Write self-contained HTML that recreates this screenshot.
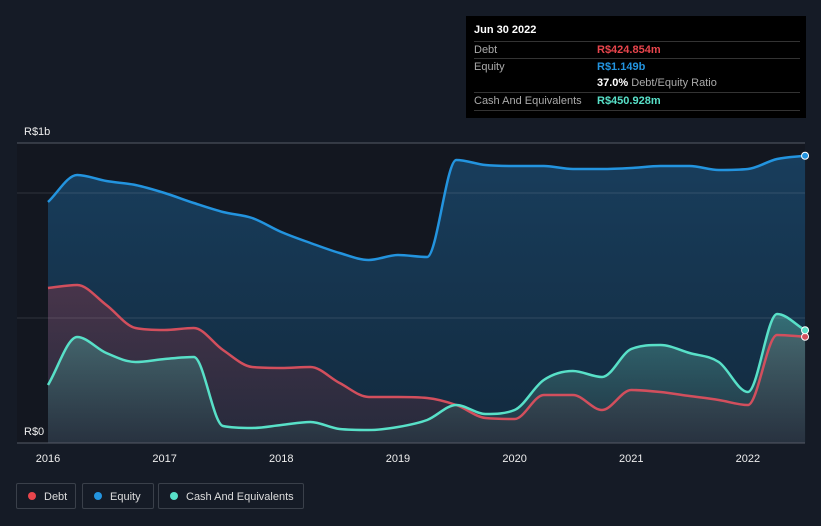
<!DOCTYPE html>
<html><head><meta charset="utf-8"><style>
body{margin:0;background:#151b26;font-family:"Liberation Sans",sans-serif;}
#c{position:absolute;left:0;top:0;width:821px;height:526px;}
.tt{position:absolute;left:466px;top:16px;width:340px;height:102px;background:#000;color:#fff;font-size:11px;}
.row{position:absolute;left:8px;width:326px;border-top:1px solid #333;height:17px;line-height:17px;color:#aaa;}
.v{position:absolute;left:123px;font-weight:bold;}
.leg{position:absolute;top:483px;height:26px;border:1px solid #3a404a;border-radius:2px;color:#ddd;font-size:11px;line-height:26px;box-sizing:border-box;}
.dot{display:inline-block;width:8px;height:8px;border-radius:50%;margin:0 8px 0 11px;}
</style></head><body>
<svg id="c" width="821" height="526">
<defs>
<linearGradient id="ge" x1="0" y1="0" x2="0" y2="1"><stop offset="0" stop-color="#1a4a70" stop-opacity="0.75"/><stop offset="1" stop-color="#123048" stop-opacity="0.75"/></linearGradient>
<linearGradient id="gd" x1="0" y1="0" x2="0" y2="1"><stop offset="0" stop-color="#6a3548" stop-opacity="0.6"/><stop offset="1" stop-color="#3a2a38" stop-opacity="0.5"/></linearGradient>
<linearGradient id="gc" x1="0" y1="0" x2="0" y2="1"><stop offset="0" stop-color="#4fa09a" stop-opacity="0.55"/><stop offset="1" stop-color="#2a3a44" stop-opacity="0.5"/></linearGradient>
</defs>
<g id="bg"></g><g id="areas"></g><g id="grid"></g><g id="lines"></g><g id="ticks"></g>
</svg>
<div class="tt">
<div style="position:absolute;left:8px;top:8px;font-weight:bold;color:#fff">Jun 30 2022</div>
<div class="row" style="top:25px">Debt<span class="v" style="color:#e8454c">R$424.854m</span></div>
<div class="row" style="top:42px">Equity<span class="v" style="color:#2394df">R$1.149b</span></div>
<div class="row" style="top:59px;border-top:none"><span class="v" style="color:#fff">37.0% <span style="color:#aaa;font-weight:normal">Debt/Equity Ratio</span></span></div>
<div class="row" style="top:76px;border-bottom:1px solid #333">Cash And Equivalents<span class="v" style="color:#58e0c8">R$450.928m</span></div>
</div>
<div class="leg" style="left:16px;width:60px"><span class="dot" style="background:#e8454c"></span>Debt</div>
<div class="leg" style="left:82px;width:72px"><span class="dot" style="background:#2394df"></span>Equity</div>
<div class="leg" style="left:158px;width:146px"><span class="dot" style="background:#58e0c8"></span>Cash And Equivalents</div>
<script>
const dates=[2016,2016.25,2016.5,2016.75,2017,2017.25,2017.5,2017.75,2018,2018.25,2018.5,2018.75,2019,2019.25,2019.5,2019.75,2020,2020.25,2020.5,2020.75,2021,2021.25,2021.5,2021.75,2022,2022.25,2022.49];
const equity=[964,1072,1048,1032,1000,960,924,900,844,800,760,732,752,744,1132,1112,1108,1108,1096,1096,1100,1108,1108,1092,1096,1136,1149];
const debt=[620,632,552,460,452,460,372,304,300,304,240,184,184,180,152,100,96,192,192,132,212,204,188,172,152,432,425];
const cash=[232,424,360,324,336,344,68,60,72,84,56,52,64,92,152,116,132,252,288,264,376,392,360,324,204,516,451];
const yearTicks=[2016,2017,2018,2019,2020,2021,2022];
const gridVals=[0,500,1000,1200];
const X=d=>48+(d-2016)*116.65;
const Y=v=>443-v*0.25;
const NS='http://www.w3.org/2000/svg';
function mk(t,a,p){const e=document.createElementNS(NS,t);for(const k in a)e.setAttribute(k,a[k]);p.appendChild(e);return e;}
const bg=document.getElementById('bg'),grid=document.getElementById('grid'),areas=document.getElementById('areas'),lines=document.getElementById('lines'),ticks=document.getElementById('ticks');
mk('rect',{x:17,y:Y(1200),width:788,height:Y(0)-Y(1200),fill:'#131720'},bg);
gridVals.forEach(v=>{const l=mk('line',{x1:17,x2:805,y1:Y(v),y2:Y(v),stroke:v==0||v==1200?'#555b66':'rgba(255,255,255,0.12)','stroke-width':1},grid);

});
function path(vals){const p=dates.map((d,i)=>[X(d),Y(vals[i])]);const n=p.length;
const dl=[],m=[];for(let i=0;i<n-1;i++)dl.push((p[i+1][1]-p[i][1])/(p[i+1][0]-p[i][0]));
m[0]=dl[0];m[n-1]=dl[n-2];
for(let i=1;i<n-1;i++){if(dl[i-1]*dl[i]<=0)m[i]=0;else{m[i]=(dl[i-1]+dl[i])/2;const a=m[i]/dl[i-1],b=m[i]/dl[i];const s=a*a+b*b;if(s>9){const t=3/Math.sqrt(s);m[i]=t*(dl[i-1]+dl[i])/2;}}}
let s='M'+p[0][0]+','+p[0][1];
for(let i=0;i<n-1;i++){const h=(p[i+1][0]-p[i][0])/3;
s+=` C${p[i][0]+h},${p[i][1]+m[i]*h} ${p[i+1][0]-h},${p[i+1][1]-m[i+1]*h} ${p[i+1][0]},${p[i+1][1]}`;}return s;}
const x0=X(dates[0]),x1=X(dates[dates.length-1]);
[[equity,'url(#ge)','#2394df','equity'],[debt,'url(#gd)','#d24f5d','debt'],[cash,'url(#gc)','#58e0c8','cash']].forEach(([v,f,c,n])=>{
const d=path(v);
const a=mk('path',{d:d+` L${x1},${Y(0)} L${x0},${Y(0)} Z`,fill:f},areas);


const l=mk('path',{d:d,fill:'none',stroke:c,'stroke-width':2.5},lines);


const mm=mk('circle',{cx:x1,cy:Y(v[v.length-1]),r:3.5,fill:c,stroke:'#fff','stroke-width':1},lines);


});
yearTicks.forEach(y=>{const t=mk('text',{x:X(y),y:462,fill:'#eee','font-size':11,'text-anchor':'middle'},ticks);t.textContent=y;

});
[['R$1b',135],['R$0',435]].forEach(([s,y])=>{const t=mk('text',{x:24,y:y,fill:'#eee','font-size':11},ticks);t.textContent=s;

});
</script>
</body></html>
